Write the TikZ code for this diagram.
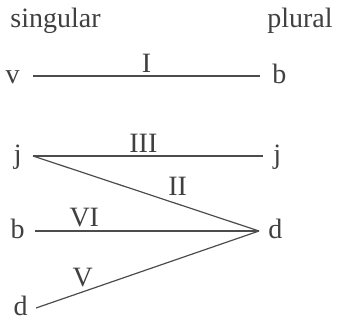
\documentclass[tikz,border=0pt]{standalone}
\usepackage{fontspec}
\setmainfont{Liberation Serif}
\usetikzlibrary{positioning}

\begin{document}
\begin{tikzpicture}[
    x=0.5pt, y=-0.5pt,
    font=\fontsize{14}{16}\selectfont,
    every node/.style={text=black!75},
    form/.style={inner sep=0pt, yshift=-1.3pt},
    link/.style={line width=0.6pt, draw=black!70},
    rule/.style={inner sep=1.7pt}
]
\useasboundingbox (0,0) rectangle (342,322);

% column heads
\node[anchor=base west, inner sep=0pt] (sg) at (10,27) {singular};
\node[anchor=base east, inner sep=0pt] (pl) at (333,27) {plural};

% line ends
\coordinate (sv) at (33,76);
\coordinate (pb) at (260,76);
\coordinate (sj) at (33,156);
\coordinate (pj) at (263,156);
\coordinate (sb) at (35,231);
\coordinate (pd) at (259,231);
\coordinate (sd) at (36,308);

% singular forms
\node[form, mid left=6.5pt of sv] (fv) {v};
\node[form, mid left=5.5pt of sj] (fj) {j};
\node[form, mid left=5pt of sb] (fb) {b};
\node[form, mid left=4pt of sd] (fd) {d};

% plural forms
\node[form, mid right=6pt of pb] (gb) {b};
\node[form, mid right=5pt of pj] (gj) {j};
\node[form, mid right=4.5pt of pd] (gd) {d};

% classes
\draw[link] (sv) -- node[rule, midway, above] (c1) {I} (pb);
\draw[link] (sj) -- node[rule, pos=0.48, above] (c3) {III} (pj);
\draw[link] (sj) -- node[rule, pos=0.64, above, inner sep=4pt] (c2) {II} (pd);
\draw[link] (sb) -- node[rule, pos=0.22, above] (c6) {VI} (pd);
\draw[link] (sd) -- node[rule, pos=0.21, above, inner sep=2.3pt] (c5) {V} (pd);

\end{tikzpicture}
\end{document}
